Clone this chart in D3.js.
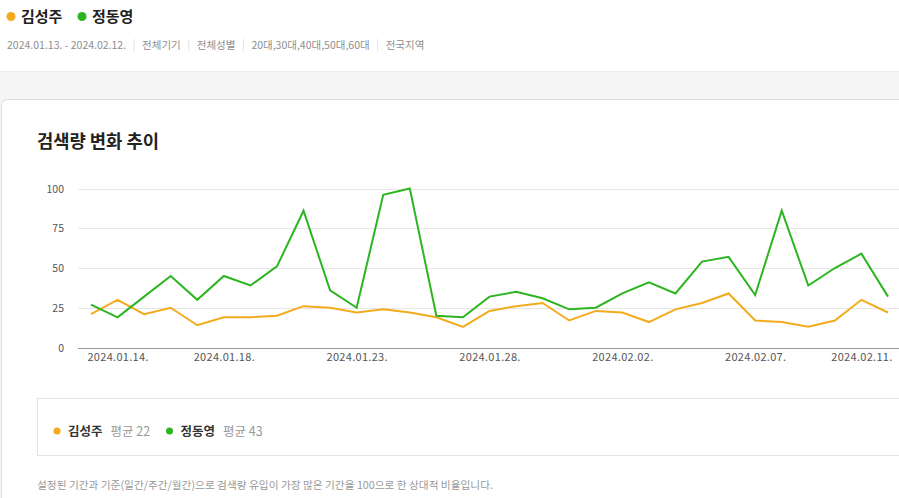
<!DOCTYPE html>
<html><head><meta charset="utf-8">
<script src="https://cdn.jsdelivr.net/npm/d3@7"></script>
<style>
html,body{margin:0;padding:0;background:#fff;overflow:hidden;}
svg{display:block;font-family:"Noto Sans CJK KR","Noto Sans",sans-serif;}
</style></head><body>
<svg id="c" width="899" height="498"></svg>
<script>
const dates = ["2024.01.13.","2024.01.14.","2024.01.15.","2024.01.16.","2024.01.17.","2024.01.18.","2024.01.19.","2024.01.20.","2024.01.21.","2024.01.22.","2024.01.23.","2024.01.24.","2024.01.25.","2024.01.26.","2024.01.27.","2024.01.28.","2024.01.29.","2024.01.30.","2024.01.31.","2024.02.01.","2024.02.02.","2024.02.03.","2024.02.04.","2024.02.05.","2024.02.06.","2024.02.07.","2024.02.08.","2024.02.09.","2024.02.10.","2024.02.11.","2024.02.12."];
const kimValues = [21,30,21,25,14,19,19,20,26,25,22,24,22,19,13,23,26,28,17,23,22,16,24,28,34,17,16,13,17,30,22];
const jungValues = [27,19,32,45,30,45,39,51,86,36,25,96,100,20,19,32,35,31,24,25,34,41,34,54,57,33,86,39,50,59,32];
const seriesNames = ["김성주","정동영"];
const seriesAvg = [22,43];
const xTickLabels = ["2024.01.14.","2024.01.18.","2024.01.23.","2024.01.28.","2024.02.02.","2024.02.07.","2024.02.11."];
const yTicks = [0,25,50,75,100];
const filters = ["2024.01.13. - 2024.02.12.","전체기기","전체성별","20대,30대,40대,50대,60대","전국지역"];
const colors = ["#f2ab1c","#2cb520"];

const svg = d3.select("#c");

// header legend
const hdr = svg.append("g");
let hx = 11;
seriesNames.forEach((n,i)=>{
  hdr.append("circle").attr("cx",hx).attr("cy",16.5).attr("r",4.5).attr("fill",colors[i]);
  hdr.append("text").attr("x",hx+10).attr("y",22).attr("font-size",15).attr("font-weight",700).attr("fill","#222").text(n);
  hx += 71;
});
// filter line
let fx = 7;
filters.forEach((f,i)=>{
  const t = svg.append("text").attr("x",fx).attr("y",48.5).attr("font-size",10.5).attr("fill","#8e8e8e").text(f);
  const w = t.node().getComputedTextLength();
  fx += w;
  if(i<filters.length-1){
    svg.append("line").attr("x1",fx+8).attr("x2",fx+8).attr("y1",39).attr("y2",51).attr("stroke","#e3e3e3");
    fx += 16;
  }
});

// gray band
svg.append("rect").attr("x",0).attr("y",71).attr("width",899).attr("height",427).attr("fill","#f5f5f5");
svg.append("line").attr("x1",0).attr("x2",899).attr("y1",71.5).attr("y2",71.5).attr("stroke","#ececec");
// card
svg.append("rect").attr("x",1.5).attr("y",99.5).attr("width",920).attr("height",420).attr("rx",6).attr("fill","#fff").attr("stroke","#dedede");

// title
svg.append("text").attr("x",37).attr("y",148).attr("font-size",17.7).attr("font-weight",700).attr("fill","#222").text("검색량 변화 추이");

// scales
const x = d3.scalePoint().domain(dates).range([91,888]);
const y = d3.scaleLinear().domain([0,100]).range([347.5,188.5]);

// grid
const grid = svg.append("g");
yTicks.forEach(v=>{
  grid.append("line").attr("x1",78).attr("x2",899).attr("y1",Math.round(y(v))+0.5).attr("y2",Math.round(y(v))+0.5)
    .attr("stroke", v===0 ? "#9a9a9a" : "#e6e6e6");
});
const yAxis = d3.axisLeft(y).tickValues(yTicks).tickSize(0).tickPadding(0);
const yg = svg.append("g").attr("transform","translate(64,0)").call(yAxis);
yg.select(".domain").remove();
yg.selectAll("text").attr("font-size",10.5).attr("fill","#555").attr("font-family","'Noto Sans CJK KR',sans-serif").attr("dy","0.35em");

const xAxis = d3.axisBottom(x).tickValues(xTickLabels).tickSize(0).tickPadding(0);
const xg = svg.append("g").attr("transform","translate(0,355)").call(xAxis);
xg.select(".domain").remove();
xg.selectAll("text").attr("font-size",11).attr("fill","#555").attr("letter-spacing","0.3").attr("font-family","'Noto Sans CJK KR',sans-serif").attr("dy","0.55em");

// lines
const line = d3.line().x((d,i)=>x(dates[i])).y(d=>y(d));
[kimValues,jungValues].forEach((vals,i)=>{
  svg.append("path").datum(vals).attr("d",line).attr("fill","none").attr("stroke",colors[i]).attr("stroke-width",2).attr("stroke-linejoin","miter");
});

// legend box
svg.append("rect").attr("x",37.5).attr("y",398.5).attr("width",880).attr("height",57).attr("fill","#fff").attr("stroke","#e3e3e3");
let lx = 57;
seriesNames.forEach((n,i)=>{
  svg.append("circle").attr("cx",lx).attr("cy",431).attr("r",3.5).attr("fill",colors[i]);
  const t = svg.append("text").attr("x",lx+11).attr("y",435.5).attr("font-size",12.5).attr("font-weight",700).attr("fill","#333").text(n);
  const w = t.node().getComputedTextLength();
  svg.append("text").attr("x",lx+11+w+8).attr("y",435.5).attr("font-size",12.5).attr("fill","#999").text("평균 "+seriesAvg[i]);
  lx += 112.5;
});

// footnote
svg.append("text").attr("x",37).attr("y",488.5).attr("font-size",10.7).attr("fill","#999")
  .text("설정된 기간과 기준(일간/주간/월간)으로 검색량 유입이 가장 많은 기간을 100으로 한 상대적 비율입니다.");
</script>
</body></html>
